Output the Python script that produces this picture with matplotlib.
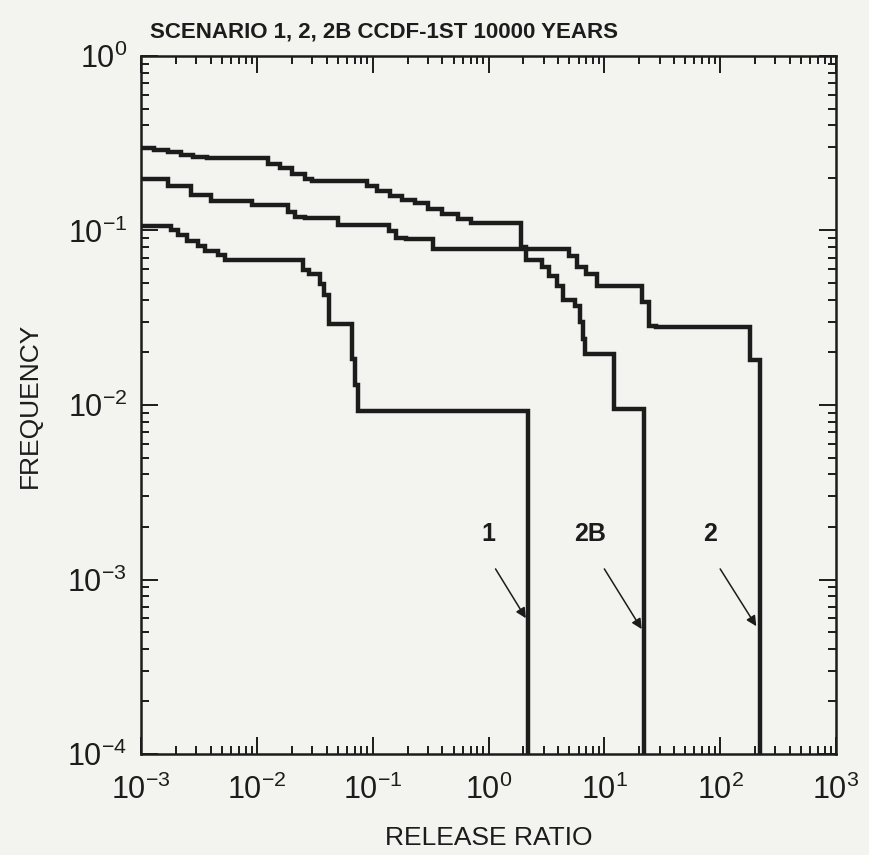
""" Scenario 1, 2, 2B CCDF - first 10000 years """

from matplotlib import pyplot as plt
from matplotlib.ticker import LogLocator, NullFormatter, FixedLocator

plt.rcParams['font.family'] = ['Liberation Sans', 'DejaVu Sans']
plt.rcParams['mathtext.default'] = 'regular'

INK = '#1c1c1c'
PAPER = '#f3f3ef'

# Curve 1 (steps-post: release ratio, frequency)
x1 = [0.001, 0.0018, 0.0021, 0.0025, 0.0031, 0.0036, 0.0046, 0.0053,
      0.025, 0.028, 0.035, 0.038, 0.042, 0.066, 0.070, 0.074, 2.2]
y1 = [0.106, 0.100, 0.094, 0.087, 0.081, 0.076, 0.072, 0.068,
      0.059, 0.0565, 0.0495, 0.0428, 0.029, 0.0184, 0.013, 0.0092, 1e-5]

# Curve 2B
x2b = [0.001, 0.0013, 0.0017, 0.0022, 0.0028, 0.0037, 0.0125, 0.016,
       0.02, 0.026, 0.03, 0.09, 0.11, 0.14, 0.18, 0.23, 0.3, 0.4,
       0.55, 0.7, 1.9, 2.1, 2.9, 3.3, 3.9, 4.4, 5.6, 6.2, 6.5, 6.8,
       12.2, 22.0]
y2b = [0.296, 0.29, 0.28, 0.272, 0.265, 0.262, 0.24, 0.228,
       0.21, 0.198, 0.191, 0.18, 0.168, 0.158, 0.15, 0.144, 0.133, 0.125,
       0.117, 0.110, 0.08, 0.068, 0.062, 0.055, 0.048, 0.040, 0.037, 0.030,
       0.024, 0.0195, 0.0095, 1e-5]

# Curve 2
x2 = [0.001, 0.0017, 0.0027, 0.004, 0.009, 0.0185, 0.0213, 0.026,
      0.05, 0.137, 0.16, 0.193, 0.33, 5.0, 5.8, 7.0, 8.6,
      21.0, 24.4, 28.0, 180.0, 220.0]
y2 = [0.197, 0.18, 0.16, 0.148, 0.1396, 0.128, 0.12, 0.118,
      0.108, 0.099, 0.0906, 0.089, 0.0785, 0.071, 0.062, 0.056, 0.048,
      0.039, 0.0284, 0.028, 0.018, 1e-5]

# Curve labels: (text, label position, arrow tail, arrow tip)
labels = [('1', (1.0, 1.55e-3), (1.15, 1.15e-3), (2.1, 6.0e-4)),
          ('2B', (7.6, 1.55e-3), (10.0, 1.15e-3), (21.0, 5.2e-4)),
          ('2', (81.0, 1.55e-3), (100.0, 1.15e-3), (205.0, 5.4e-4))]

x_ticks = [1e-3, 1e-2, 1e-1, 1e0, 1e1, 1e2, 1e3]
x_tick_labels = ['$10^{-3}$', '$10^{-2}$', '$10^{-1}$', '$10^{0}$',
                 '$10^{1}$', '$10^{2}$', '$10^{3}$']
y_ticks = [1e-4, 1e-3, 1e-2, 1e-1, 1e0]
y_tick_labels = ['$10^{-4}$', '$10^{-3}$', '$10^{-2}$', '$10^{-1}$', '$10^{0}$']

fig = plt.figure(figsize=(8.69, 8.55), dpi=100, facecolor=PAPER)
ax = fig.add_axes([141 / 869, 1 - 754 / 855, 695 / 869, 698 / 855],
                  facecolor=PAPER)

for xs, ys in [(x1, y1), (x2b, y2b), (x2, y2)]:
    ax.plot(xs, ys, drawstyle='steps-post', color=INK, linewidth=3.2,
            solid_joinstyle='miter')

for text, pos, tail, tip in labels:
    ax.text(pos[0], pos[1], text, fontsize=18, fontweight='bold', color=INK,
            ha='center', va='bottom')
    ax.annotate('', xy=tip, xytext=tail,
                arrowprops=dict(arrowstyle='-|>', color=INK, lw=1.1,
                                mutation_scale=15, shrinkA=0, shrinkB=0))

ax.set_xscale('log')
ax.set_yscale('log')
ax.set_xlim(1e-3, 1e3)
ax.set_ylim(1e-4, 1e0)

ax.xaxis.set_major_locator(FixedLocator(x_ticks))
ax.set_xticklabels(x_tick_labels)
ax.yaxis.set_major_locator(FixedLocator(y_ticks))
ax.set_yticklabels(y_tick_labels)
ax.xaxis.set_minor_locator(LogLocator(base=10, subs=range(2, 10), numticks=20))
ax.yaxis.set_minor_locator(LogLocator(base=10, subs=range(2, 10), numticks=20))
ax.xaxis.set_minor_formatter(NullFormatter())
ax.yaxis.set_minor_formatter(NullFormatter())

ax.tick_params(which='both', direction='in', top=True, right=True,
               color=INK, width=1.4)
ax.tick_params(which='major', length=12, labelsize=22, labelcolor=INK)
ax.tick_params(axis='x', which='major', pad=15)
ax.tick_params(axis='y', which='major', pad=10)
ax.tick_params(which='minor', length=6)

for side in ax.spines.values():
    side.set_linewidth(1.8)
    side.set_color(INK)

ax.set_xlabel('RELEASE RATIO', fontsize=19, color=INK, labelpad=14)
ax.set_ylabel('FREQUENCY', fontsize=19, color=INK, labelpad=18)

fig.text(150 / 869, 1 - 32 / 855, 'SCENARIO 1, 2, 2B CCDF-1ST 10000 YEARS',
         fontsize=16, fontweight='bold', color=INK, ha='left', va='center')

fig.savefig('out.png', dpi=100, facecolor=PAPER)
